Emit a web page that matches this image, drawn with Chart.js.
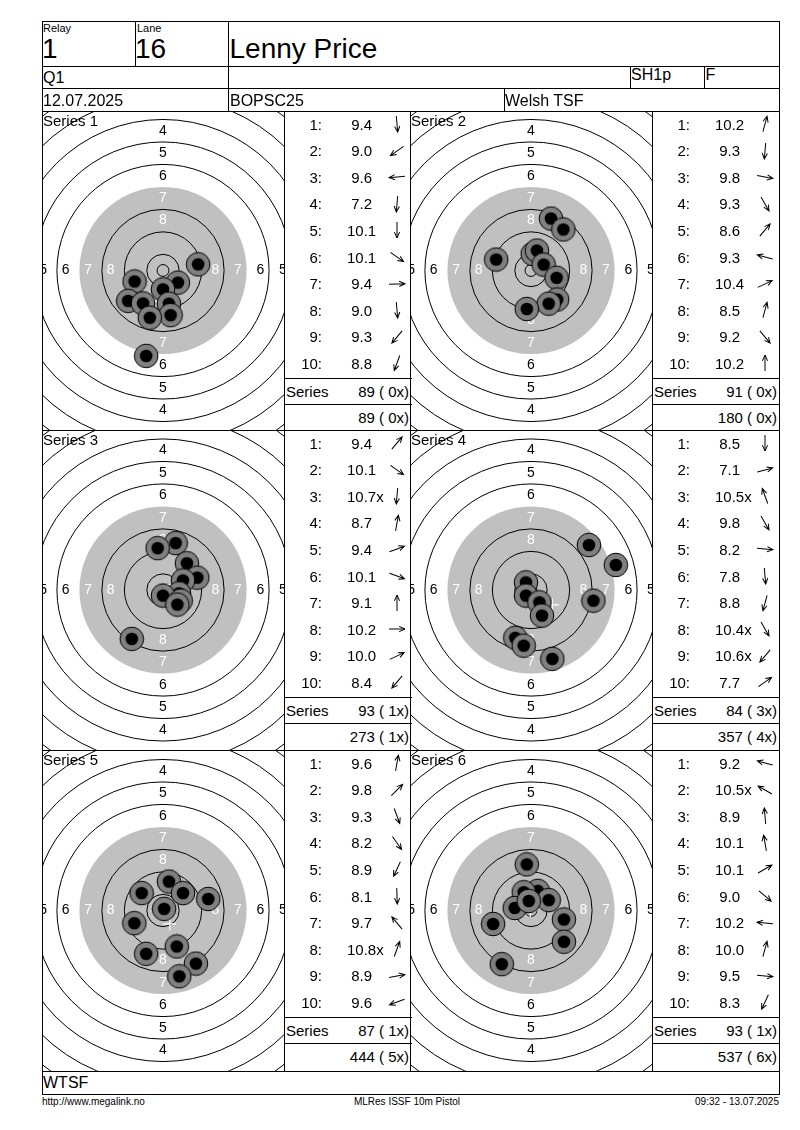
<!DOCTYPE html>
<html>
<head>
<meta charset="utf-8">
<script src="https://cdn.jsdelivr.net/npm/chart.js@4.4.1/dist/chart.umd.min.js"></script>
<style>
body { margin: 0; background: #fff; font-family: "Liberation Sans", Arial, sans-serif; }
#page { position: relative; width: 800px; height: 1130px; overflow: hidden; background: #fff; }
.t { position: absolute; white-space: pre; line-height: 1; color: #000; }
.ln { position: absolute; background: #000; }
canvas { position: absolute; }
svg { position: absolute; overflow: visible; }
</style>
</head>
<body>
<div id="page"></div>
<script>
'use strict';

const seriesNames = ['Series 1', 'Series 2', 'Series 3', 'Series 4', 'Series 5', 'Series 6'];
// shot positions in mm from the centre, x to the right, y up
const shotX = [
	[12.5, 5.3, 0.0, -10.1, -12.4, -7.1, 2.1, 2.7, -4.7, -6.0],
	[7.1, 11.5, -12.4, 0.6, 2.1, 4.5, 9.1, 9.3, 6.3, -1.5],
	[4.5, -1.9, 8.5, 12.2, 7.1, 5.7, 0.0, 6.3, 5.1, -11.1],
	[20.6, 30.2, 22.2, -1.8, -1.8, 3.0, 3.9, -5.6, -2.6, 7.6],
	[2.1, -7.6, 7.1, 16.1, 0.4, -10.2, 4.9, -6.0, 11.7, 5.8],
	[-1.5, 2.4, -2.6, 6.3, -5.8, -0.8, 11.7, 11.7, -13.5, -10.4]
];
const shotY = [
	[2.2, -4.3, -6.7, -3.9, -10.8, -11.7, -11.8, -15.9, -16.8, -30.4],
	[18.5, 14.6, 3.9, 5.9, 7.1, 2.1, -2.6, -10.3, -11.8, -13.7],
	[16.7, 14.9, 9.5, 4.4, 3.4, -1.2, -2.0, -3.8, -5.2, -17.4],
	[16.0, 8.9, -3.8, 2.7, -2.0, -4.4, -9.1, -17.0, -19.8, -24.5],
	[10.3, 6.2, 6.2, 4.1, 0.6, -4.5, -12.8, -15.4, -18.9, -23.4],
	[16.4, 7.0, 6.5, 3.7, 0.9, 3.4, -3.2, -11.1, -4.8, -19.1]
];
const shotScores = [
	['9.4', '9.0', '9.6', '7.2', '10.1', '10.1', '9.4', '9.0', '9.3', '8.8'],
	['10.2', '9.3', '9.8', '9.3', '8.6', '9.3', '10.4', '8.5', '9.2', '10.2'],
	['9.4', '10.1', '10.7x', '8.7', '9.4', '10.1', '9.1', '10.2', '10.0', '8.4'],
	['8.5', '7.1', '10.5x', '9.8', '8.2', '7.8', '8.8', '10.4x', '10.6x', '7.7'],
	['9.6', '9.8', '9.3', '8.2', '8.9', '8.1', '9.7', '10.8x', '8.9', '9.6'],
	['9.2', '10.5x', '8.9', '10.1', '10.1', '9.0', '10.2', '10.0', '9.5', '8.3']
];
// arrow directions, degrees clockwise from straight up
const shotArrows = [
	[175, 235, 265, 185, 180, 125, 88, 175, 220, 200],
	[15, 185, 100, 150, 40, 285, 65, 15, 140, 0],
	[40, 125, 185, 10, 70, 110, 0, 90, 65, 220],
	[180, 75, 340, 150, 95, 175, 195, 150, 220, 55],
	[10, 45, 160, 145, 205, 178, 320, 20, 80, 250],
	[285, 300, 355, 350, 60, 130, 275, 15, 95, 205]
];
const seriesTotals = ['89 ( 0x)', '91 ( 0x)', '93 ( 1x)', '84 ( 3x)', '87 ( 1x)', '93 ( 1x)'];
const runningTotals = ['89 ( 0x)', '180 ( 0x)', '273 ( 1x)', '357 ( 4x)', '444 ( 5x)', '537 ( 6x)'];
// ISSF 10m pistol target, ring 1..10 radius in mm
const ringRadii = [77.75, 69.75, 61.75, 53.75, 45.75, 37.75, 29.75, 21.75, 13.75, 5.75];
const innerTen = 2.1;
const pelletRadius = 2.25;
const ringLabels = [4, 5, 6, 7, 8];

const page = document.getElementById('page');
const pxPerMm = 2.81;

function text(str, x, cy, size, align) {
	let el = document.createElement('div');
	el.className = 't';
	el.textContent = str;
	el.style.fontSize = size + 'px';
	el.style.top = (cy - size * 0.49) + 'px';
	if (align === 'right') {
		el.style.right = (800 - x) + 'px';
	} else {
		el.style.left = x + 'px';
	}
	page.appendChild(el);
}
function hline(x1, x2, y) {
	let el = document.createElement('div');
	el.className = 'ln';
	el.style.left = x1 + 'px';
	el.style.top = y + 'px';
	el.style.width = (x2 - x1 + 1) + 'px';
	el.style.height = '1px';
	page.appendChild(el);
}
function vline(x, y1, y2) {
	let el = document.createElement('div');
	el.className = 'ln';
	el.style.left = x + 'px';
	el.style.top = y1 + 'px';
	el.style.width = '1px';
	el.style.height = (y2 - y1 + 1) + 'px';
	page.appendChild(el);
}
function arrow(cx, cy, deg) {
	let svg = document.createElementNS('http://www.w3.org/2000/svg', 'svg');
	svg.setAttribute('width', '20');
	svg.setAttribute('height', '20');
	svg.style.left = (cx - 10) + 'px';
	svg.style.top = (cy - 10) + 'px';
	svg.innerHTML = '<g transform="translate(10,10) rotate(' + deg + ')" fill="none" stroke="#000" stroke-width="1">' +
		'<path d="M0,8 L0,-8 M-2.6,-2.2 L0,-8 L2.6,-2.2"/></g>';
	page.appendChild(svg);
}

// one shot hole: gray ring with the pellet size black dot
function shotImage() {
	let c = document.createElement('canvas');
	c.width = 26;
	c.height = 26;
	let g = c.getContext('2d');
	g.beginPath();
	g.arc(13, 13, 11.8, 0, Math.PI * 2);
	g.fillStyle = '#808080';
	g.fill();
	g.strokeStyle = '#000';
	g.lineWidth = 1;
	g.stroke();
	g.beginPath();
	g.arc(13, 13, pelletRadius * pxPerMm, 0, Math.PI * 2);
	g.fillStyle = '#000';
	g.fill();
	return c;
}

const targetPlugin = {
	id: 'target',
	beforeDatasetsDraw(chart) {
		const ctx = chart.ctx;
		const xs = chart.scales.x, ys = chart.scales.y;
		const cx = xs.getPixelForValue(0), cy = ys.getPixelForValue(0);
		const k = xs.getPixelForValue(1) - cx;
		ctx.save();
		ctx.fillStyle = '#c0c0c0';
		ctx.beginPath();
		ctx.arc(cx, cy, ringRadii[6] * k, 0, Math.PI * 2);
		ctx.fill();
		ctx.strokeStyle = '#000';
		ctx.lineWidth = 1;
		ringRadii.concat([innerTen]).forEach((r, i) => {
			if (i === 6) return; // ring 7 is the edge of the aiming mark
			ctx.beginPath();
			ctx.arc(cx, cy, r * k, 0, Math.PI * 2);
			ctx.stroke();
		});
		ctx.font = '14px "Liberation Sans", Arial, sans-serif';
		ctx.textAlign = 'center';
		ctx.textBaseline = 'middle';
		ringLabels.forEach(n => {
			const r = (ringRadii[n - 1] + ringRadii[n]) / 2 * k;
			const side = r + 2.5;
			ctx.fillStyle = n >= 7 ? '#fff' : '#000';
			ctx.fillText(String(n), cx, cy - r);
			ctx.fillText(String(n), cx, cy + r);
			ctx.fillText(String(n), cx - side, cy);
			ctx.fillText(String(n), cx + side, cy);
		});
		ctx.restore();
	}
};

const rowTops = [111, 430, 750];
const targetLefts = [42, 410];
const scoreLefts = [284, 652];
const hole = shotImage();

seriesNames.forEach((name, s) => {
	const col = s % 2, row = Math.floor(s / 2);
	const top = rowTops[row];
	const h = (row < 2 ? rowTops[row + 1] : 1071) - top;
	const w = 242;
	let canvas = document.createElement('canvas');
	canvas.width = w;
	canvas.height = h;
	canvas.style.left = targetLefts[col] + 'px';
	canvas.style.top = top + 'px';
	canvas.style.width = w + 'px';
	canvas.style.height = h + 'px';
	page.appendChild(canvas);

	const shots = shotX[s].map((x, i) => ({ x: x, y: shotY[s][i] }));
	const mean = {
		x: shotX[s].reduce((a, b) => a + b, 0) / shotX[s].length,
		y: shotY[s].reduce((a, b) => a + b, 0) / shotY[s].length
	};
	const hx = w / 2 / pxPerMm, hy = h / 2 / pxPerMm;
	new Chart(canvas, {
		type: 'scatter',
		data: {
			datasets: [
				{ data: shots, pointStyle: hole, pointRadius: 12, pointHoverRadius: 12 },
				{ data: [mean], pointStyle: 'cross', pointRadius: 6.5, borderColor: '#fff', borderWidth: 1.2 }
			]
		},
		options: {
			responsive: false,
			animation: false,
			devicePixelRatio: 1,
			events: [],
			layout: { padding: 0, autoPadding: false },
			plugins: { legend: { display: false }, tooltip: { enabled: false } },
			scales: {
				x: { type: 'linear', min: -hx, max: hx, bounds: 'data', display: false },
				y: { type: 'linear', min: -hy, max: hy, bounds: 'data', display: false }
			}
		},
		plugins: [targetPlugin]
	});

	text(name, targetLefts[col] + 1, top + 9.6, 15);

	const L = scoreLefts[col];
	shotScores[s].forEach((v, i) => {
		const cy = top + 13 + 26.6 * i;
		text((i + 1) + ':', L + 38, cy, 15, 'right');
		text(v.length < 4 ? ' ' + v : v, L + 63, cy, 15);
		arrow(L + 113, cy, shotArrows[s][i]);
	});
	hline(L, L + 127, top + 267);
	hline(L, L + 127, top + 293);
	text('Series', L + 2, top + 280, 15);
	text(seriesTotals[s], L + 125, top + 280, 15, 'right');
	text(runningTotals[s], L + 125, top + 306, 15, 'right');
});

// header
text('Relay', 43, 28, 11);
text('1', 42, 49.2, 28);
text('Lane', 137, 28, 11);
text('16', 135, 49.2, 28);
text('Lenny Price', 229.5, 49.2, 28);
text('Q1', 43, 78.2, 16);
text('SH1p', 631, 74.5, 16);
text('F', 705.5, 74.5, 16);
text('12.07.2025', 43, 100.8, 16);
text('BOPSC25', 230, 100.8, 16);
text('Welsh TSF', 505, 100.8, 16);
text('WTSF', 43, 1083, 16);
text('http://www.megalink.no', 42, 1102, 10);
text('09:32 - 13.07.2025', 779, 1102, 10, 'right');
let mid = document.createElement('div');
mid.className = 't';
mid.textContent = 'MLRes ISSF 10m Pistol';
mid.style.fontSize = '10px';
mid.style.top = (1102 - 4.9) + 'px';
mid.style.left = '407px';
mid.style.transform = 'translateX(-50%)';
page.appendChild(mid);

// table rules
hline(42, 779, 21);
hline(42, 779, 66);
hline(42, 779, 88);
hline(42, 779, 111);
hline(42, 779, 430);
hline(42, 779, 750);
hline(42, 779, 1071);
hline(42, 779, 1094);
vline(42, 21, 1094);
vline(779, 21, 1094);
vline(135, 21, 66);
vline(228, 21, 111);
vline(630, 66, 88);
vline(704, 66, 88);
vline(504, 88, 111);
vline(284, 111, 1071);
vline(410, 111, 1071);
vline(652, 111, 1071);
</script>
</body>
</html>
